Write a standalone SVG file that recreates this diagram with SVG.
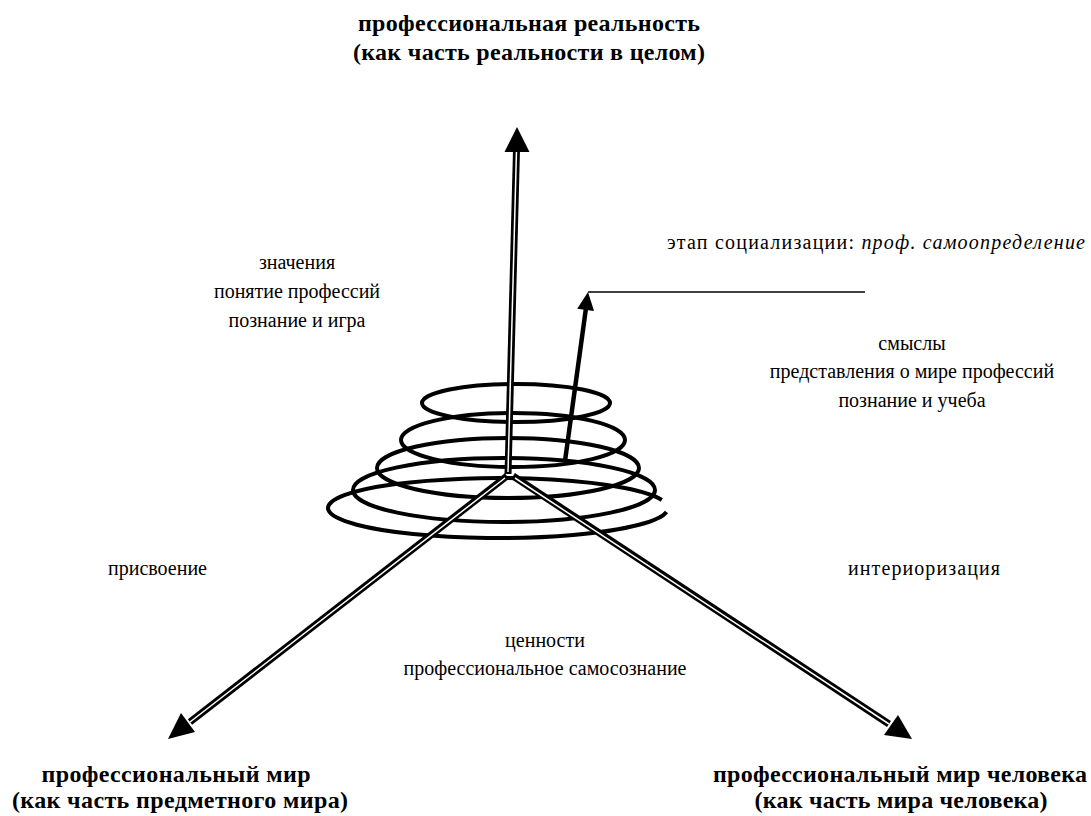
<svg xmlns="http://www.w3.org/2000/svg" width="1091" height="816" viewBox="0 0 1091 816">
<style>
.t{font-family:"Liberation Serif","Times New Roman",serif;font-size:20px;fill:#000}
.b{font-family:"Liberation Serif","Times New Roman",serif;font-size:24px;font-weight:bold;fill:#000}
.ring{fill:none;stroke:#000;stroke-width:4}
.dblo{stroke:#000;stroke-width:7;fill:none}
.dbli{stroke:#fff;stroke-width:1.5;fill:none}
.head{fill:#000;stroke:none}
</style>
<rect width="1091" height="816" fill="#fff"/>
<g id="spiral">
<ellipse class="ring" cx="516" cy="403" rx="94" ry="19"/>
<ellipse class="ring" cx="513" cy="440" rx="112" ry="27"/>
<ellipse class="ring" cx="508" cy="468" rx="131" ry="30"/>
<ellipse class="ring" cx="504" cy="490" rx="151" ry="32"/>
<path class="ring" d="M 666.5 512 A 170 30 0 1 1 661.8 500"/>
</g>
<g id="connectors">
<line class="dblo" x1="508" y1="474" x2="516.5" y2="150"/>
<line class="dbli" x1="508" y1="472" x2="516.5" y2="150"/>
<polygon class="head" points="517,127 504.5,152 529.5,152"/>
<line class="dblo" x1="507" y1="476" x2="190" y2="722"/>
<line class="dbli" x1="505" y1="478" x2="190" y2="722"/>
<polygon class="head" points="168,739 195,732 181,713"/>
<line class="dblo" x1="513" y1="476" x2="889" y2="724"/>
<line class="dbli" x1="515" y1="478" x2="889" y2="724"/>
<polygon class="head" points="912,739 884,735 898,715"/>
<line stroke="#000" stroke-width="4.5" x1="565" y1="461" x2="586" y2="308"/>
<polygon class="head" points="588,292 594,311 577.2,308.7"/>
<line stroke="#000" stroke-width="1.3" x1="588" y1="292" x2="865" y2="292"/>
</g>
<g id="top-label">
<text class="b" x="529" y="31" text-anchor="middle" textLength="342">профессиональная реальность</text>
<text class="b" x="529" y="60" text-anchor="middle" textLength="352">(как часть реальности в целом)</text>
</g>
<g id="stage-label">
<text class="t" x="667" y="249" textLength="418">этап социализации: <tspan font-style="italic">проф. самоопределение</tspan></text>
</g>
<g id="meanings">
<text class="t" x="297" y="269" text-anchor="middle">значения</text>
<text class="t" x="297" y="298" text-anchor="middle">понятие профессий</text>
<text class="t" x="297" y="327" text-anchor="middle">познание и игра</text>
</g>
<g id="senses">
<text class="t" x="912" y="350" text-anchor="middle">смыслы</text>
<text class="t" x="912" y="378" text-anchor="middle">представления о мире профессий</text>
<text class="t" x="912" y="407" text-anchor="middle">познание и учеба</text>
</g>
<g id="appropriation">
<text class="t" x="108" y="575">присвоение</text>
</g>
<g id="interiorization">
<text class="t" x="848" y="575" textLength="152">интериоризация</text>
</g>
<g id="values">
<text class="t" x="545" y="647" text-anchor="middle">ценности</text>
<text class="t" x="545" y="675" text-anchor="middle">профессиональное самосознание</text>
</g>
<g id="left-label">
<text class="b" x="176" y="782" text-anchor="middle" textLength="269">профессиональный мир</text>
<text class="b" x="180" y="808" text-anchor="middle" textLength="336">(как часть предметного мира)</text>
</g>
<g id="right-label">
<text class="b" x="900" y="782" text-anchor="middle" textLength="374">профессиональный мир человека</text>
<text class="b" x="901" y="808" text-anchor="middle" textLength="293">(как часть мира человека)</text>
</g>
</svg>
